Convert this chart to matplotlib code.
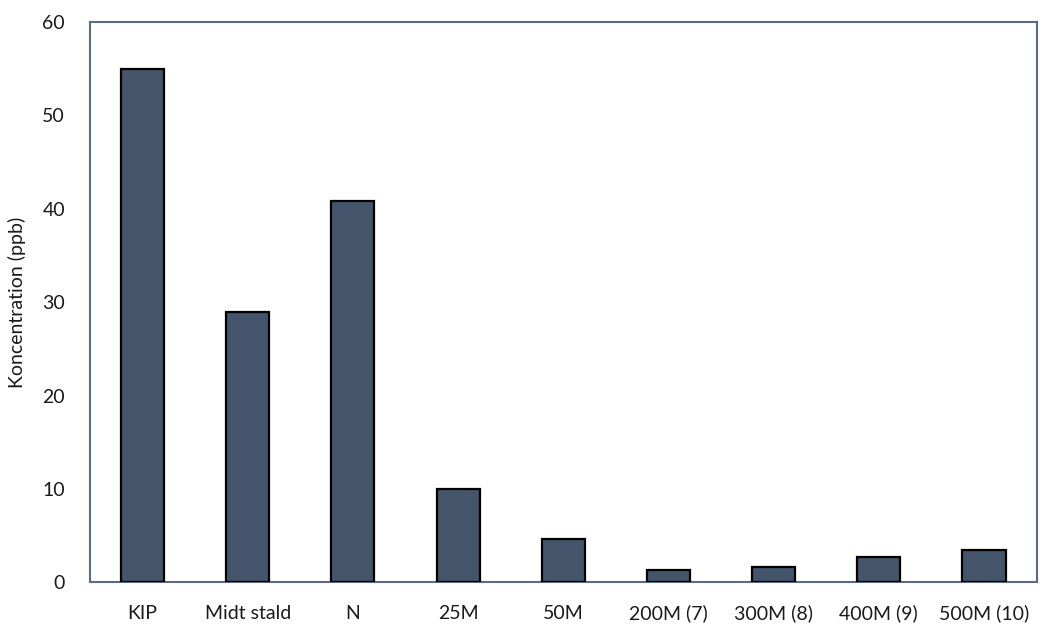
import matplotlib
matplotlib.use("Agg")
import matplotlib.pyplot as plt

categories = ["KIP", "Midt stald", "N", "25M", "50M",
              "200M (7)", "300M (8)", "400M (9)", "500M (10)"]
values = [55.0, 29.0, 40.8, 10.0, 4.7, 1.3, 1.7, 2.7, 3.5]

plt.rcParams["font.family"] = ["Lato", "DejaVu Sans"]

fig = plt.figure(figsize=(10.46, 6.28), dpi=100)
ax = fig.add_axes([0.086, 0.0725, 0.905, 0.8925])

ax.bar(range(len(categories)), values, width=0.41, color="#44546A",
       edgecolor="black", linewidth=1.6, zorder=3)

ax.set_xlim(-0.5, len(categories) - 0.5)
ax.set_ylim(0, 60)
ax.set_yticks(range(0, 61, 10))
ax.set_xticks(range(len(categories)))
ax.set_xticklabels(categories)
ax.tick_params(axis="both", length=0, labelsize=14, colors="#1a1a1a")
ax.tick_params(axis="x", pad=16)
ax.tick_params(axis="y", pad=18)

for s in ax.spines.values():
    s.set_color("#5B6B80")
    s.set_linewidth(1.5)

ax.set_ylabel("Koncentration (ppb)", fontsize=14, color="#1a1a1a", labelpad=12)

fig.savefig("out.png", dpi=100)
